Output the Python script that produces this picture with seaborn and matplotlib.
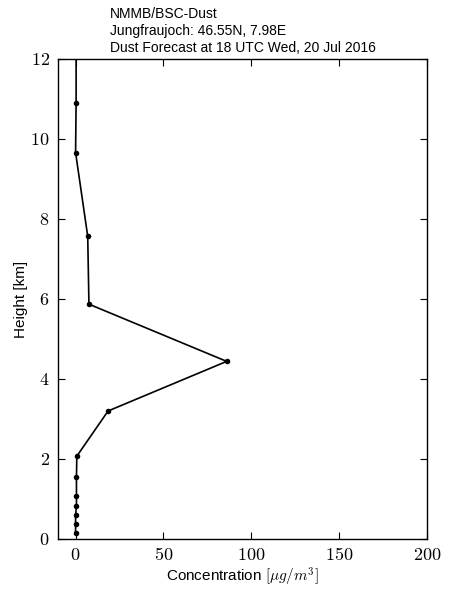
import matplotlib
matplotlib.use("Agg")
import matplotlib.pyplot as plt
import seaborn as sns
import pandas as pd

height_km = [0.15, 0.375, 0.59, 0.83, 1.075, 1.55, 2.07, 3.2, 4.44, 5.87, 7.57, 9.66, 10.91, 12.3]
concentration = [0.0, 0.0, 0.0, 0.5, 0.5, 0.5, 0.7, 18.5, 86.0, 7.6, 6.9, 0.0, 0.3, 0.3]
x_ticks = [0, 50, 100, 150, 200]
y_ticks = [0, 2, 4, 6, 8, 10, 12]
title_lines = ["NMMB/BSC-Dust", "Jungfraujoch: 46.55N, 7.98E", "Dust Forecast at 18 UTC Wed, 20 Jul 2016"]

sns.set_style("ticks")
plt.rcParams['font.family'] = ['Liberation Sans', 'DejaVu Sans']
plt.rcParams['mathtext.fontset'] = 'cm'
for k in ['text.color', 'axes.labelcolor', 'xtick.color', 'ytick.color']:
    plt.rcParams[k] = 'black'

df = pd.DataFrame({"conc": concentration, "h": height_km})

fig = plt.figure(figsize=(4.74, 6.0), dpi=100)
ax = fig.add_axes([0.1224, 0.1017, 0.7784, 0.8])
sns.lineplot(data=df, x="conc", y="h", sort=False, estimator=None, ax=ax,
             color="black", linewidth=1.2, marker="o", markersize=4,
             markeredgewidth=0, markerfacecolor="black")
ax.set_xlim(-10, 200)
ax.set_ylim(0, 12)
ax.set_xticks(x_ticks)
ax.set_yticks(y_ticks)
ax.set_xticklabels([f"${t}$" for t in x_ticks], fontsize=13)
ax.set_yticklabels([f"${t}$" for t in y_ticks], fontsize=13)
ax.tick_params(direction="in", length=5, width=0.8, top=True, right=True, pad=6)
for s in ax.spines.values():
    s.set_linewidth(1.0)
    s.set_color("black")
ax.set_xlabel(r"Concentration $[\mu g/m^3]$", fontsize=11, labelpad=1)
ax.set_ylabel("Height [km]", fontsize=11, labelpad=2)

for i, line in enumerate(title_lines):
    fig.text(0.232, 0.988 - i * 0.0285, line, fontsize=10, ha="left", va="top")

fig.savefig("out.png", dpi=100, facecolor="white")
